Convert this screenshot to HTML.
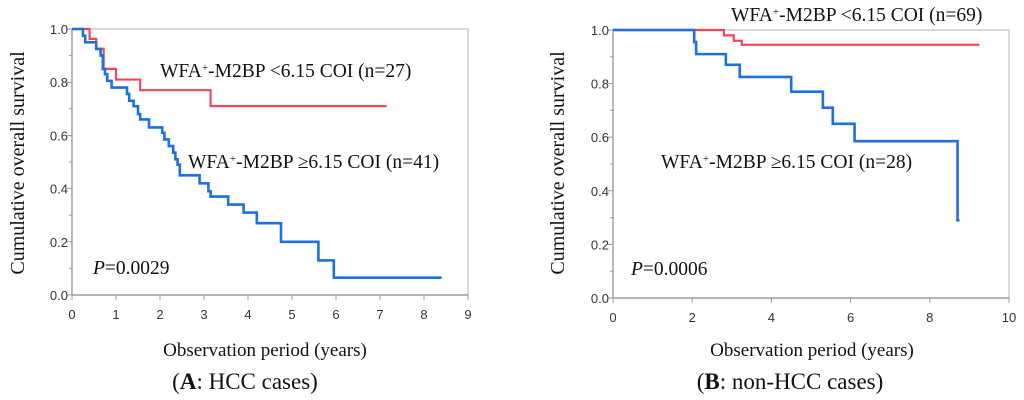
<!DOCTYPE html>
<html><head><meta charset="utf-8"><style>
body{margin:0;width:1024px;height:400px;background:#fff;overflow:hidden;position:relative}
svg{display:block}
.sf{font-family:"Liberation Serif","Times New Roman",serif}
.tk{font-family:"Liberation Sans",sans-serif;font-size:13px;fill:#333}
</style></head><body>
<svg id="c" width="1024" height="400"></svg>
<script>
const aRedT=[0,0.4,0.55,0.72,1.0,1.55,3.15,7.15];
const aRedS=[1,0.963,0.926,0.85,0.81,0.77,0.71,0.71];
const aBlueT=[0,0.25,0.3,0.55,0.65,0.7,0.75,0.8,0.9,1.25,1.3,1.4,1.5,1.55,1.75,2.05,2.1,2.2,2.3,2.35,2.4,2.45,2.9,3.1,3.15,3.55,3.9,4.2,4.75,5.6,5.95,8.4];
const aBlueS=[1,0.975,0.95,0.925,0.9,0.85,0.83,0.805,0.78,0.756,0.73,0.71,0.68,0.66,0.63,0.61,0.585,0.56,0.535,0.51,0.49,0.45,0.42,0.39,0.37,0.34,0.31,0.27,0.2,0.13,0.065,0.065];
const bRedT=[0,2.8,3.05,3.25,9.25];
const bRedS=[1,0.98,0.96,0.945,0.945];
const bBlueT=[0,2.05,2.1,2.85,3.2,4.5,5.3,5.55,6.1,8.7,8.75];
const bBlueS=[1,0.955,0.91,0.87,0.825,0.77,0.71,0.65,0.585,0.29,0.29];
const yTicks=[0,0.2,0.4,0.6,0.8,1.0];
const aXTicks=[0,1,2,3,4,5,6,7,8,9];
const bXTicks=[0,2,4,6,8,10];
const NS="http://www.w3.org/2000/svg";
const svg=document.getElementById('c');
function mk(tag,attrs,parent){const e=document.createElementNS(NS,tag);for(const k in attrs)e.setAttribute(k,attrs[k]);(parent||svg).appendChild(e);return e;}
function panel(p){
  const g=mk('g',{});
  
  
  const sx=v=>p.x0+(v/p.xmax)*(p.x1-p.x0);
  const sy=v=>p.y0-(v)*(p.y0-p.y1);
  const fr=mk('rect',{x:p.x0,y:p.y1,width:p.x1-p.x0,height:p.y0-p.y1,fill:'none',stroke:'#ccc','stroke-width':1.5},g);
  
  
  mk('line',{x1:p.x0,y1:p.y1,x2:p.x0,y2:p.y0,stroke:'#999','stroke-width':1.2},g);
  mk('line',{x1:p.x0,y1:p.y0,x2:p.x1,y2:p.y0,stroke:'#999','stroke-width':1.2},g);
  yTicks.forEach(v=>{
    mk('line',{x1:p.x0-5,y1:sy(v),x2:p.x0,y2:sy(v),stroke:'#999'},g);
    const t=mk('text',{x:p.x0-4,y:sy(v)+5,'text-anchor':'end',class:'tk'},g);t.textContent=v.toFixed(1);
    
    
    if(v<1) mk('line',{x1:p.x0-3,y1:sy(v+0.1),x2:p.x0,y2:sy(v+0.1),stroke:'#999'},g);
  });
  p.xt.forEach(v=>{
    mk('line',{x1:sx(v),y1:p.y0,x2:sx(v),y2:p.y0+5,stroke:'#999'},g);
    const t=mk('text',{x:sx(v),y:p.y0+24,'text-anchor':'middle',class:'tk'},g);t.textContent=v;
    
    
  });
  p.series.forEach(s=>{
    let d='M'+sx(s.t[0])+','+sy(s.s[0]);
    for(let i=1;i<s.t.length;i++){d+=' H'+sx(s.t[i])+' V'+sy(s.s[i]);}
    const pa=mk('path',{d:d,fill:'none',stroke:s.c,'stroke-width':s.w},g);
    
    
  });
}
panel({id:'hcc',x0:72,x1:468,y0:295,y1:29,xmax:9,xt:aXTicks,series:[
 {t:aRedT,s:aRedS,c:'#f0485a',w:2.2,name:'low-m2bp-curve'},
 {t:aBlueT,s:aBlueS,c:'#1e6fe0',w:2.6,name:'high-m2bp-curve'}]});
panel({id:'non-hcc',x0:613,x1:1009,y0:298,y1:30,xmax:10,xt:bXTicks,series:[
 {t:bRedT,s:bRedS,c:'#f0485a',w:2.2,name:'low-m2bp-curve'},
 {t:bBlueT,s:bBlueS,c:'#1e6fe0',w:2.6,name:'high-m2bp-curve'}]});
</script>
<svg width="1024" height="400" style="position:absolute;left:0;top:0" font-family="'Liberation Serif','Times New Roman',serif" fill="#111">
<text class="sf" transform="translate(24,163) rotate(-90)" text-anchor="middle" font-size="20">Cumulative overall survival</text>
<text class="sf" transform="translate(564,163) rotate(-90)" text-anchor="middle" font-size="20">Cumulative overall survival</text>
<text class="sf" x="160" y="77" font-size="19.5">WFA<tspan baseline-shift="super" font-size="11">+</tspan>-M2BP &lt;6.15 COI (n=27)</text>
<text class="sf" x="188" y="168" font-size="19.5">WFA<tspan baseline-shift="super" font-size="11">+</tspan>-M2BP ≥6.15 COI (n=41)</text>
<text class="sf" x="93" y="274" font-size="19.5"><tspan font-style="italic">P</tspan>=0.0029</text>
<text class="sf" x="731" y="21" font-size="19.5">WFA<tspan baseline-shift="super" font-size="11">+</tspan>-M2BP &lt;6.15 COI (n=69)</text>
<text class="sf" x="661" y="168" font-size="19.5">WFA<tspan baseline-shift="super" font-size="11">+</tspan>-M2BP ≥6.15 COI (n=28)</text>
<text class="sf" x="631" y="275" font-size="19.5"><tspan font-style="italic">P</tspan>=0.0006</text>
<text class="sf" x="265" y="356" text-anchor="middle" font-size="19">Observation period (years)</text>
<text class="sf" x="812" y="356" text-anchor="middle" font-size="19">Observation period (years)</text>
<text class="sf" x="245" y="389" text-anchor="middle" font-size="23">(<tspan font-weight="bold">A</tspan>: HCC cases)</text>
<text class="sf" x="790" y="389" text-anchor="middle" font-size="23">(<tspan font-weight="bold">B</tspan>: non-HCC cases)</text>
</svg>
</body></html>
